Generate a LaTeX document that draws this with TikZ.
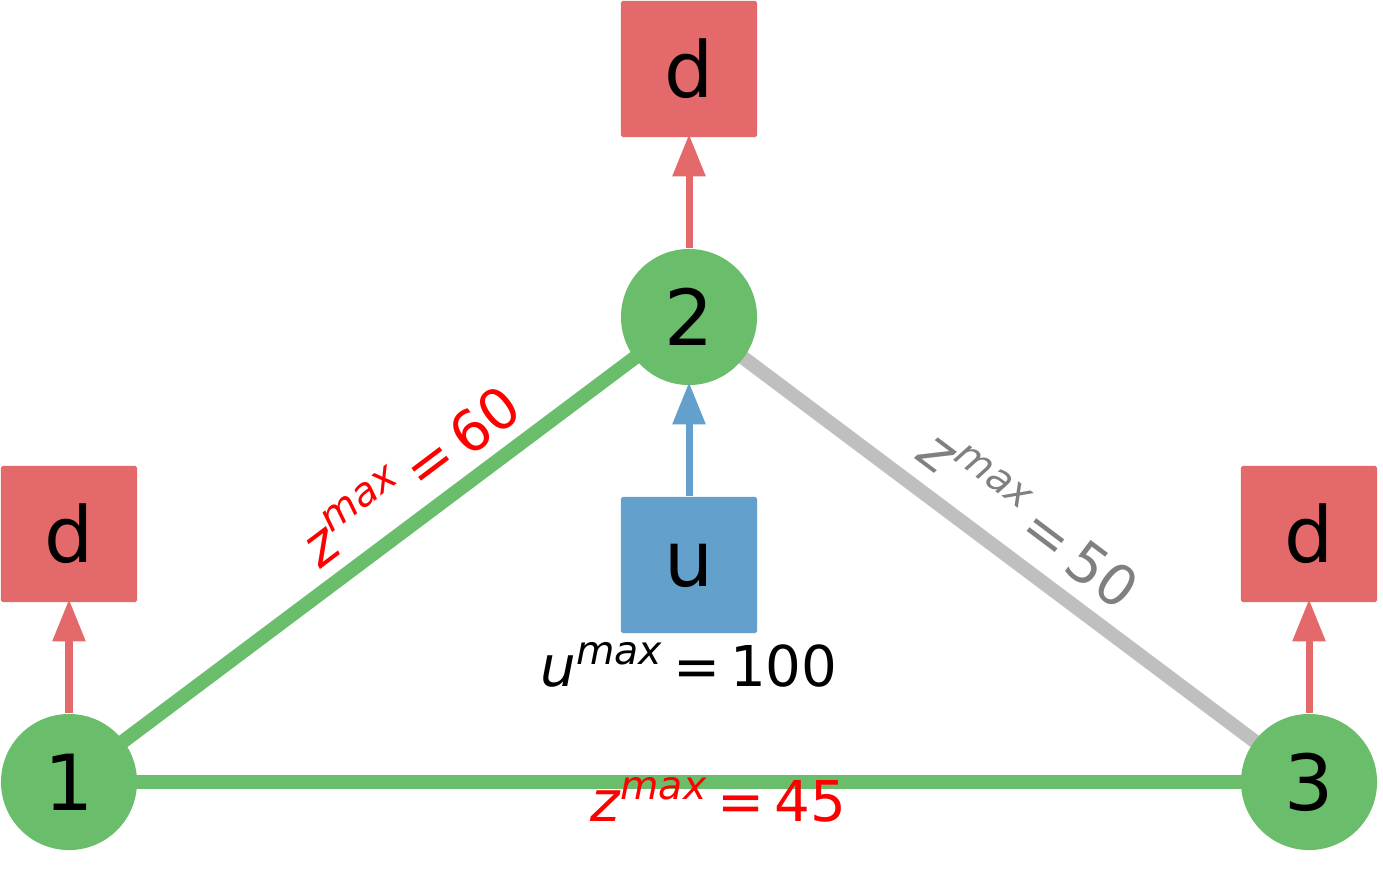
\documentclass[tikz,border=0pt]{standalone}
\usepackage{fontspec}
\setmainfont{DejaVu Sans}
\usetikzlibrary{arrows.meta}
\definecolor{ngreen}{HTML}{6ABD6A}
\definecolor{nred}{HTML}{E3696A}
\definecolor{nblue}{HTML}{63A0CB}
\definecolor{egray}{HTML}{BFBFBF}
\newcommand{\maxlab}[2]{\textit{#1}\textsuperscript{\textit{max}}\,=\,#2}
\begin{document}
\begin{tikzpicture}[x=0.01cm,y=-0.01cm,
  bus/.style={circle, fill=ngreen, minimum size=1.36cm, inner sep=0pt, font=\fontsize{22}{24}\selectfont},
  box/.style={rectangle, rounded corners=0.5pt, minimum size=1.36cm, inner sep=0pt, font=\fontsize{22}{24}\selectfont},
  demand/.style={box, fill=nred},
  line/.style={line width=4pt},
  flow/.style={line width=2pt, -{Triangle[length=12pt,width=9pt]}, shorten >=-1pt},
  lab/.style={font=\fontsize{16}{18}\selectfont}]
\useasboundingbox (0,0) rectangle (1383,869);
% Lines
\coordinate (c1) at (69,782);
\coordinate (c2) at (689,317);
\coordinate (c3) at (1309,782);
\draw[line, ngreen] (c1) -- (c2);
\draw[line, ngreen] (c1) -- (c3);
\draw[line, egray] (c2) -- (c3);
% Buses
\node[bus] (n1) at (c1) {1};
\node[bus] (n2) at (c2) {2};
\node[bus] (n3) at (c3) {3};
% Demands and generator
\node[demand] (d1) at (69,534) {d};
\node[demand] (d2) at (689,69) {d};
\node[demand] (d3) at (1309,534) {d};
\node[box, fill=nblue] (u) at (689,565) {u};
\draw[flow, nred] (n1) -- (d1);
\draw[flow, nred] (n2) -- (d2);
\draw[flow, nred] (n3) -- (d3);
\draw[flow, nblue] (u) -- (n2);
% Labels
\node[lab, red, rotate=37] (l12) at (410,475) {\maxlab{z}{60}};
\node[lab, gray, rotate=-37] (l23) at (1030,518) {\maxlab{z}{50}};
\node[lab, red] (l13) at (718,800) {\maxlab{z}{45}};
\node[lab] (lu) at (689,665) {\maxlab{u}{100}};
\end{tikzpicture}
\end{document}
